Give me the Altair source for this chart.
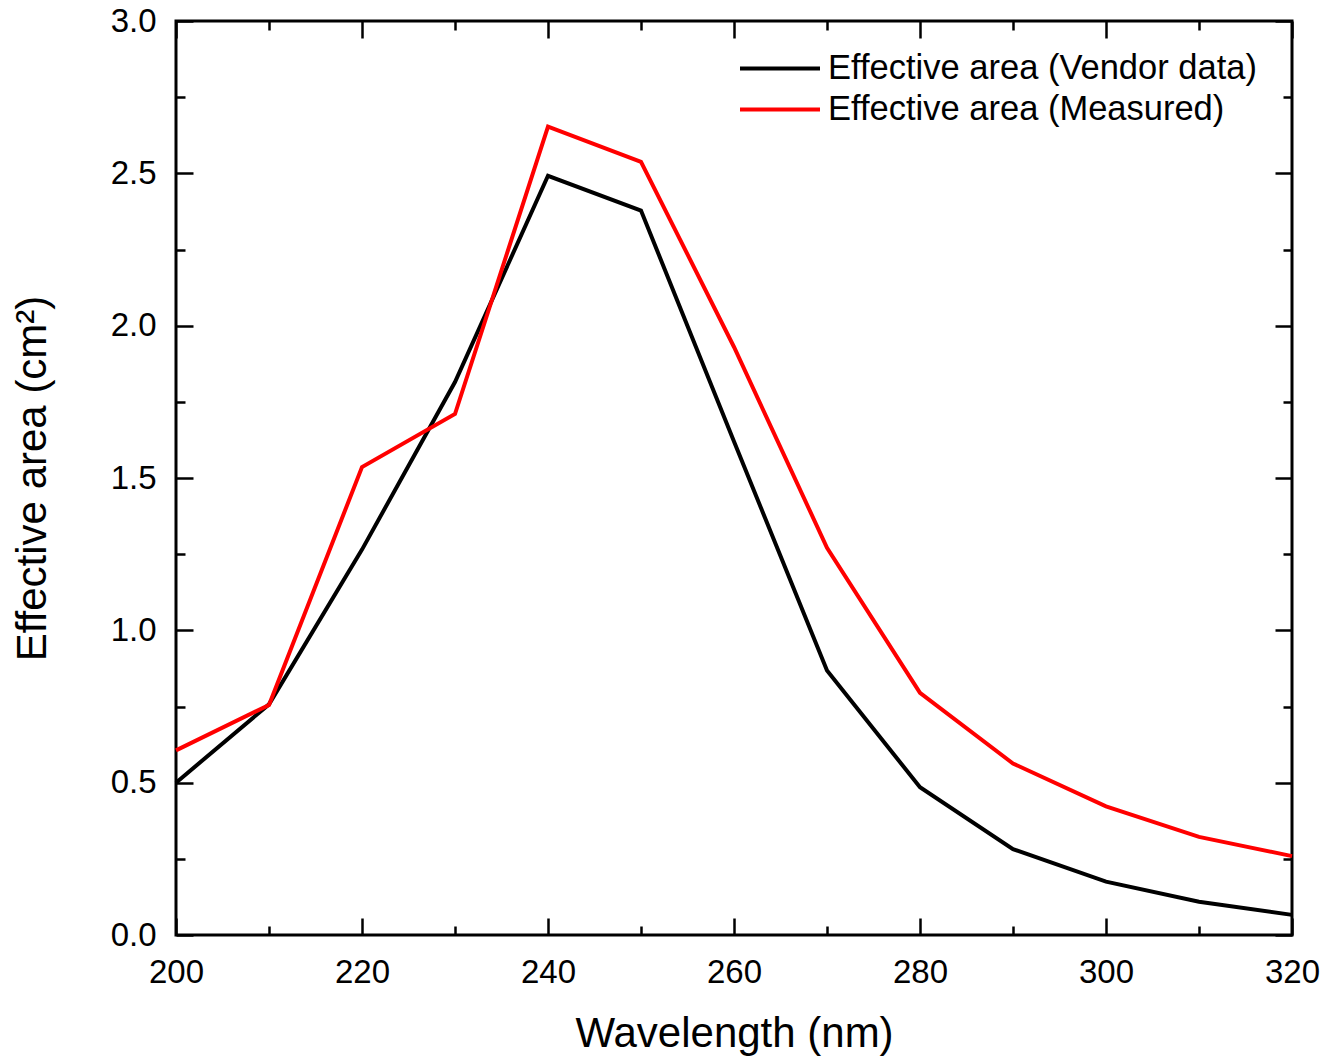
import altair as alt
import pandas as pd

wavelength = [200, 210, 220, 230, 240, 250, 260, 270, 280, 290, 300, 310, 320]
vendor = [0.500, 0.757, 1.265, 1.815, 2.492, 2.378, 1.620, 0.868, 0.485, 0.282, 0.175, 0.109, 0.066]
measured = [0.606, 0.755, 1.536, 1.710, 2.653, 2.538, 1.930, 1.271, 0.795, 0.563, 0.422, 0.322, 0.259]
series_names = ["Effective area (Vendor data)", "Effective area (Measured)"]
series_colors = ["#000000", "#ff0000"]

x_major = [200, 220, 240, 260, 280, 300, 320]
x_minor = [210, 230, 250, 270, 290, 310]
y_major = [0.0, 0.5, 1.0, 1.5, 2.0, 2.5, 3.0]
y_minor = [0.25, 0.75, 1.25, 1.75, 2.25, 2.75]

rows = []
for w, v in zip(wavelength, vendor):
    rows.append({"wl": w, "area": v, "series": series_names[0]})
for w, m in zip(wavelength, measured):
    rows.append({"wl": w, "area": m, "series": series_names[1]})
df = pd.DataFrame(rows)

W, H = 1116, 914
FONT = "Liberation Sans"
xscale = alt.Scale(domain=[200, 320], nice=False, zero=False)
yscale = alt.Scale(domain=[0, 3], nice=False, zero=False)

base = alt.Chart(df)

lines = base.mark_line(strokeWidth=4, clip=False).encode(
    x=alt.X("wl:Q", scale=xscale, title="Wavelength (nm)",
            axis=alt.Axis(orient="bottom", values=x_major, ticks=False, tickSize=0,
                          domain=False, grid=False, labelFontSize=33, labelPadding=21,
                          labelFlush=False, labelOverlap=False,
                          labelColor="black", titleFontSize=42, titleFontWeight="normal",
                          titleColor="black", titlePadding=24, labelFont=FONT, titleFont=FONT)),
    y=alt.Y("area:Q", scale=yscale, title="Effective area (cm²)",
            axis=alt.Axis(orient="left", values=y_major, format=".1f", ticks=False, tickSize=0,
                          domain=False, grid=False, labelFontSize=33, labelPadding=20,
                          labelFlush=False, labelOverlap=False,
                          labelColor="black", titleFontSize=42, titleFontWeight="normal",
                          titleColor="black", titlePadding=56, labelFont=FONT, titleFont=FONT)),
    color=alt.Color("series:N",
                    scale=alt.Scale(domain=series_names, range=series_colors),
                    legend=alt.Legend(title="", orient="none",
                                      legendX=562, legendY=27, symbolType="stroke",
                                      symbolSize=6400, symbolStrokeWidth=4,
                                      labelFontSize=34.5, labelFont=FONT, labelColor="black",
                                      labelOffset=6, clipHeight=41, rowPadding=0,
                                      padding=0, labelLimit=700)),
)


def tick_layer(xorient, xoff, yorient, yoff, xvals, yvals, size):
    return base.mark_point(opacity=0).encode(
        x=alt.X("wl:Q", scale=xscale, title="",
                axis=alt.Axis(orient=xorient, offset=xoff, values=xvals, tickSize=size,
                              tickWidth=2.5, tickColor="black", labels=False,
                              domain=False, grid=False)),
        y=alt.Y("area:Q", scale=yscale, title="",
                axis=alt.Axis(orient=yorient, offset=yoff, values=yvals, tickSize=size,
                              tickWidth=2.5, tickColor="black", labels=False,
                              domain=False, grid=False)),
    )


layers = [
    lines,
    tick_layer("top", -H, "right", -W, x_major, y_major, 17),
    tick_layer("bottom", -H, "left", -W, x_major, y_major, 17),
    tick_layer("top", -H, "right", -W, x_minor, y_minor, 9),
    tick_layer("bottom", -H, "left", -W, x_minor, y_minor, 9),
]

chart = alt.layer(*layers).resolve_axis(x="independent", y="independent").properties(
    width=W, height=H,
    padding={"left": 168, "top": 13, "right": 28, "bottom": 127},
    autosize=alt.AutoSizeParams(type="none"),
).configure(
    font=FONT,
    view=alt.ViewConfig(stroke="black", strokeWidth=3),
)

chart.save("out.html", embed_options={"renderer": "svg", "actions": False})
